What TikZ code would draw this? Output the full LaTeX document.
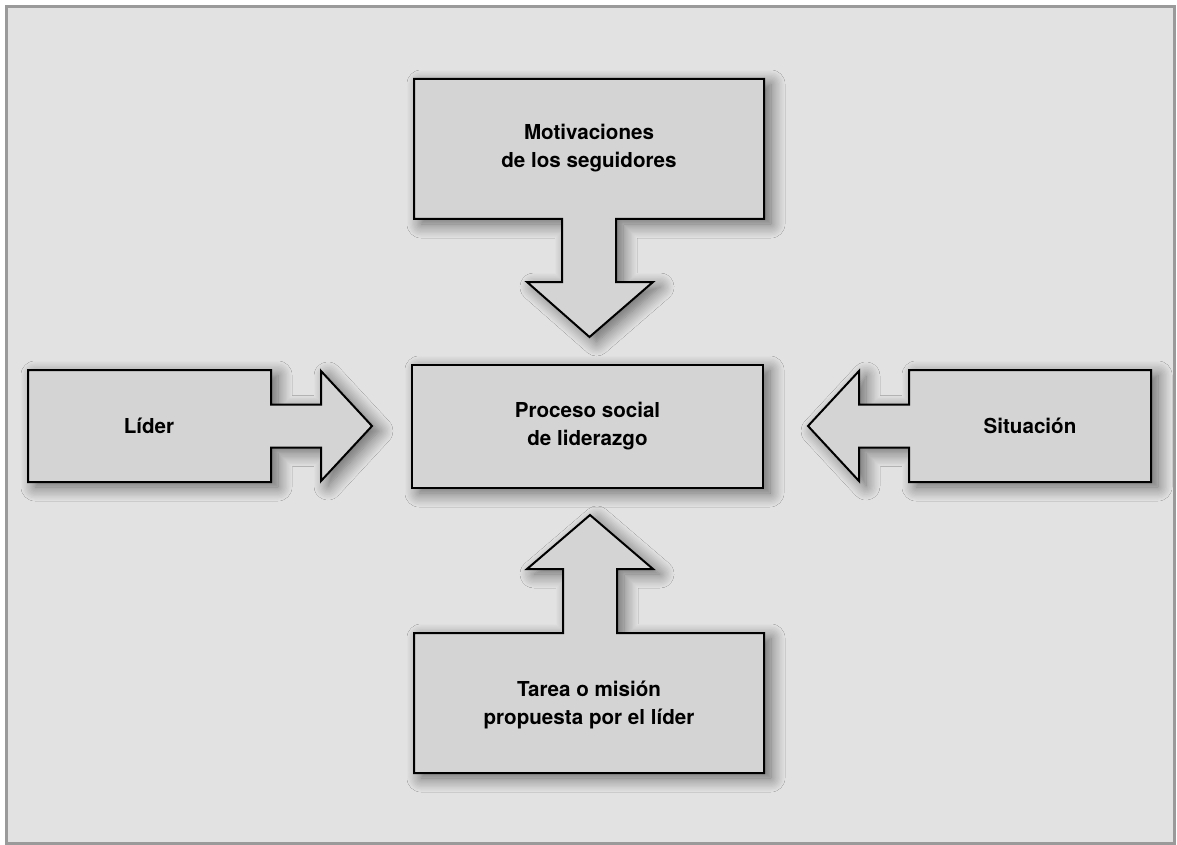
\documentclass[tikz,border=0pt]{standalone}
\usepackage{fontspec}
\setmainfont{TeX Gyre Heros}
\usetikzlibrary{positioning, shadows.blur}
\definecolor{cpaper}{HTML}{E2E2E2}
\definecolor{cframe}{HTML}{9A9A9A}
\definecolor{cbox}{HTML}{D4D4D4}
\tikzset{
  every picture/.style={x=0.5pt, y=-0.5pt},
  shapebox/.style={draw=black, fill=cbox, line width=1pt, line join=miter,
    blur shadow={shadow xshift=3.5pt, shadow yshift=-2.5pt, shadow blur radius=7pt, shadow blur steps=12, shadow opacity=55}},
  boxtext/.style={font=\fontsize{10.3}{14}\selectfont\bfseries, align=center, inner sep=0pt},
}

\begin{document}
\begin{tikzpicture}
  \useasboundingbox (0,0) rectangle (1177,845);
  \draw[cframe, fill=cpaper, line width=1.5pt] (6.5,6.5) rectangle (1174.5,843);
  % motivaciones (arrow down)
  \path[shapebox] (414,79) -| (764,219) -| (616,282) -- (653,282) -- (589.5,337)
    -- (527,282) -- (562,282) |- (414,219) -- cycle;
  \node[boxtext] (motivaciones) at (589,148) {Motivaciones\\de los seguidores};
  % lider (arrow right)
  \path[shapebox] (28,370) -| (271,404.5) -| (321,371) -- (372,426) -- (321,481)
    |- (271,447.5) |- (28,482) -- cycle;
  \node[boxtext] (lider) at (149,426) {Líder};
  % situacion (arrow left)
  \path[shapebox] (1151,370) -| (909,404.5) -| (859,371) -- (808,426) -- (859,481)
    |- (909,447.5) |- (1151,482) -- cycle;
  \node[boxtext] (situacion) at (1030,426) {Situación};
  % tarea (arrow up)
  \path[shapebox] (414,773) -| (764,633) -| (617,569) -- (653,569) -- (590,515)
    -- (527,569) -- (563,569) |- (414,633) -- cycle;
  \node[boxtext] (tarea) at (589,705) {Tarea o misión\\propuesta por el líder};
  % centro
  \node[shapebox, boxtext, minimum width=175.5pt, minimum height=61.5pt] (proceso)
    at (587.5,426.5) {Proceso social\\de liderazgo};
\end{tikzpicture}
\end{document}
